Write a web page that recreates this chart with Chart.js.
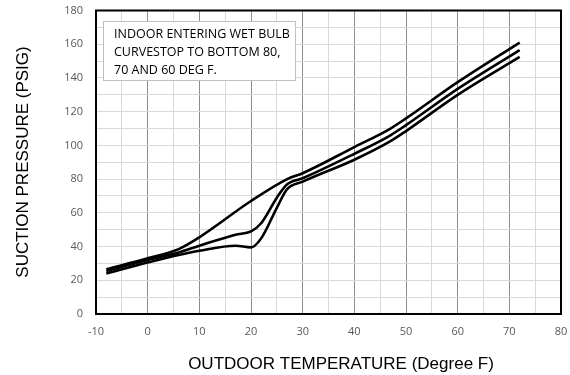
<!DOCTYPE html>
<html>
<head>
<meta charset="utf-8">
<script src="https://cdn.jsdelivr.net/npm/chart.js@4.4.1/dist/chart.umd.min.js"></script>
<style>
  html, body { margin: 0; padding: 0; background: #fff; }
  #wrap { width: 570px; height: 375px; position: relative; }
</style>
</head>
<body>
<div id="wrap"><canvas id="chart"></canvas></div>
<script>
// Outdoor temperature (deg F) and suction pressure (psig) per wet bulb curve
const temps80 = [-8, 0, 6, 10, 20, 27, 30, 40, 47, 50, 60, 72];
const psig80  = [26.5, 33, 38.5, 45.5, 67, 80, 83.5, 99, 110, 116, 137.5, 161];

const temps70 = [-8, 0, 6, 10, 17, 20, 22, 25, 27, 30, 40, 47, 50, 60, 72];
const psig70  = [25.5, 32, 36.5, 40.5, 47, 49, 54, 69, 77, 80.5, 95, 106, 112, 133.5, 156.5];

const temps60 = [-8, 0, 6, 10, 17, 20, 22, 25, 27, 30, 40, 47, 50, 60, 72];
const psig60  = [24, 30.5, 35, 37.5, 40.5, 39.5, 45, 63, 74, 78.5, 91.5, 102.5, 108.5, 130, 152.5];

const noteLines = ['INDOOR ENTERING WET BULB', 'CURVESTOP TO BOTTOM 80,', '70 AND 60 DEG F.'];
const xTitle = 'OUTDOOR TEMPERATURE (Degree F)';
const yTitle = 'SUCTION PRESSURE (PSIG)';

function toPoints(xs, ys) {
    return xs.map((x, i) => ({ x: x, y: ys[i] }));
}

function curve(label, xs, ys) {
    return {
        label: label,
        data: toPoints(xs, ys),
        showLine: true,
        borderColor: '#000',
        borderWidth: 2.6,
        pointRadius: 0,
        cubicInterpolationMode: 'monotone'
    };
}

// no extra room for overhanging tick labels, the axes sit at fixed places
function fixBox(s, w, h) {
    if (w) s.width = w;
    if (h) s.height = h;
    s.paddingLeft = s.paddingRight = s.paddingTop = s.paddingBottom = 0;
}

// frame, axis titles and the note box
const decor = {
    id: 'decor',
    afterDraw(chart) {
        const ctx = chart.ctx;
        const a = chart.chartArea;
        ctx.save();
        ctx.strokeStyle = '#000';
        ctx.lineWidth = 2;
        ctx.strokeRect(a.left, a.top, a.right - a.left, a.bottom - a.top);

        ctx.fillStyle = '#000';
        ctx.font = '17px "Liberation Sans", Arial, sans-serif';
        ctx.textAlign = 'center';
        ctx.textBaseline = 'middle';
        ctx.fillText(xTitle, 341, 364);
        ctx.translate(23, 162);
        ctx.rotate(-Math.PI / 2);
        ctx.fillText(yTitle, 0, 0);
        ctx.restore();

        ctx.save();
        ctx.fillStyle = '#fff';
        ctx.fillRect(103, 21, 192, 59);
        ctx.strokeStyle = '#bfbfbf';
        ctx.lineWidth = 1;
        ctx.strokeRect(103.5, 21.5, 192, 59);
        ctx.fillStyle = '#000';
        ctx.font = '12.5px "Open Sans", sans-serif';
        ctx.textAlign = 'left';
        ctx.textBaseline = 'middle';
        noteLines.forEach((t, i) => ctx.fillText(t, 114, 34 + i * 18));
        ctx.restore();
    }
};

new Chart(document.getElementById('chart'), {
    type: 'scatter',
    data: {
        datasets: [
            curve('80', temps80, psig80),
            curve('70', temps70, psig70),
            curve('60', temps60, psig60)
        ]
    },
    options: {
        responsive: true,
        maintainAspectRatio: false,
        animation: false,
        layout: {
            autoPadding: false,
            padding: { left: 0, right: 9, top: 10.5, bottom: 0 }
        },
        plugins: {
            legend: { display: false },
            tooltip: { enabled: false }
        },
        scales: {
            x: {
                type: 'linear',
                min: -10,
                max: 80,
                afterFit: s => fixBox(s, 0, 61),
                border: { display: false },
                grid: {
                    drawTicks: false,
                    color: c => (c.tick.value % 10 === 0 ? '#8c8c8c' : '#d9d9d9'),
                    lineWidth: 1
                },
                ticks: {
                    stepSize: 5,
                    padding: 11,
                    color: '#595959',
                    font: { family: '"Open Sans", sans-serif', size: 11 },
                    callback: v => (v % 10 === 0 ? v : '')
                }
            },
            y: {
                min: 0,
                max: 180,
                afterFit: s => fixBox(s, 96, 0),
                border: { display: false },
                grid: {
                    drawTicks: false,
                    color: '#d9d9d9',
                    lineWidth: 1
                },
                ticks: {
                    stepSize: 10,
                    padding: 13,
                    color: '#595959',
                    font: { family: '"Open Sans", sans-serif', size: 11 },
                    callback: v => (v % 20 === 0 ? v : '')
                }
            }
        }
    },
    plugins: [decor]
});
</script>
</body>
</html>
